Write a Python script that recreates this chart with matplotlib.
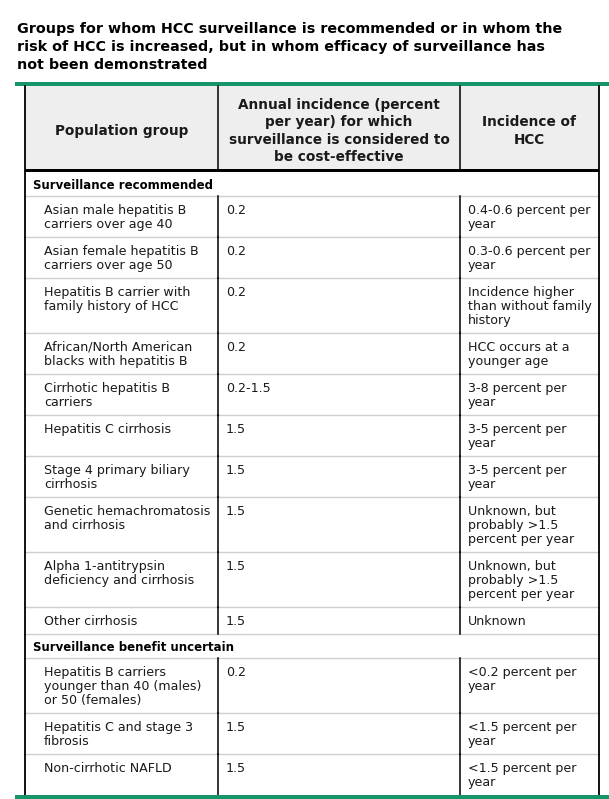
import matplotlib
matplotlib.use("Agg")
import matplotlib.pyplot as plt
from matplotlib.patches import Rectangle

# ---------------- data ----------------
title_lines = [
    "Groups for whom HCC surveillance is recommended or in whom the",
    "risk of HCC is increased, but in whom efficacy of surveillance has",
    "not been demonstrated",
]
col_headers = [
    ["Population group"],
    ["Annual incidence (percent", "per year) for which", "surveillance is considered to", "be cost-effective"],
    ["Incidence of", "HCC"],
]
section_1 = "Surveillance recommended"
section_1_groups = [
    "Asian male hepatitis B\ncarriers over age 40",
    "Asian female hepatitis B\ncarriers over age 50",
    "Hepatitis B carrier with\nfamily history of HCC",
    "African/North American\nblacks with hepatitis B",
    "Cirrhotic hepatitis B\ncarriers",
    "Hepatitis C cirrhosis",
    "Stage 4 primary biliary\ncirrhosis",
    "Genetic hemachromatosis\nand cirrhosis",
    "Alpha 1-antitrypsin\ndeficiency and cirrhosis",
    "Other cirrhosis",
]
section_1_threshold = ["0.2", "0.2", "0.2", "0.2", "0.2-1.5", "1.5", "1.5", "1.5", "1.5", "1.5"]
section_1_incidence = [
    "0.4-0.6 percent per\nyear",
    "0.3-0.6 percent per\nyear",
    "Incidence higher\nthan without family\nhistory",
    "HCC occurs at a\nyounger age",
    "3-8 percent per\nyear",
    "3-5 percent per\nyear",
    "3-5 percent per\nyear",
    "Unknown, but\nprobably >1.5\npercent per year",
    "Unknown, but\nprobably >1.5\npercent per year",
    "Unknown",
]
section_2 = "Surveillance benefit uncertain"
section_2_groups = [
    "Hepatitis B carriers\nyounger than 40 (males)\nor 50 (females)",
    "Hepatitis C and stage 3\nfibrosis",
    "Non-cirrhotic NAFLD",
]
section_2_threshold = ["0.2", "1.5", "1.5"]
section_2_incidence = [
    "<0.2 percent per\nyear",
    "<1.5 percent per\nyear",
    "<1.5 percent per\nyear",
]

# ---------------- style / layout ----------------
W, H = 609, 799
GREEN = "#16956a"
HEAD_BG = "#eeeeee"
TXT = "#1a1a1a"
GRID = "#cfcfcf"
FONT = "DejaVu Sans"
TITLE_FS = 10.25
HEAD_FS = 9.8
SECT_FS = 8.45
BODY_FS = 9.1

X_LEFT, X_C1, X_C2, X_RIGHT = 25, 218, 460, 599
TEXT_X = [44, 226, 468]
LINE_H = 14

fig = plt.figure(figsize=(W / 100, H / 100), dpi=100)
ax = fig.add_axes([0, 0, 1, 1])
ax.set_xlim(0, W)
ax.set_ylim(H, 0)
ax.axis("off")

# title
for i, line in enumerate(title_lines):
    ax.text(17, 33 + 18 * i, line, fontsize=TITLE_FS, fontweight="bold",
            color="black", family=FONT, va="baseline", ha="left")

# top green rule
ax.add_patch(Rectangle((15, 82), W - 15, 4, color=GREEN, lw=0, zorder=3))

# header
HEAD_TOP, HEAD_BOT = 86, 169
ax.add_patch(Rectangle((X_LEFT, HEAD_TOP), X_RIGHT - X_LEFT, HEAD_BOT - HEAD_TOP,
                       color=HEAD_BG, lw=0, zorder=0))
ax.add_patch(Rectangle((X_LEFT, HEAD_BOT), X_RIGHT - X_LEFT, 3, color="black", lw=0, zorder=3))
centers = [(X_LEFT + X_C1) / 2, (X_C1 + X_C2) / 2, (X_C2 + X_RIGHT) / 2]
head_mid = (HEAD_TOP + HEAD_BOT) / 2 + 2
for cx, lines in zip(centers, col_headers):
    n = len(lines)
    for i, line in enumerate(lines):
        y = head_mid + (i - (n - 1) / 2) * 17.3
        ax.text(cx, y, line, fontsize=HEAD_FS, fontweight="bold", color=TXT,
                family=FONT, ha="center", va="center_baseline")
for x in (X_C1, X_C2):
    ax.plot([x, x], [HEAD_TOP, HEAD_BOT], color="black", lw=1.1, zorder=3)

# body
y = 172
vseg = []


def section_row(label, y):
    h = 24
    ax.text(33, y + 17, label, fontsize=SECT_FS, fontweight="bold", color="black",
            family=FONT, ha="left", va="baseline")
    ax.plot([X_LEFT, X_RIGHT], [y + h, y + h], color=GRID, lw=1.0, zorder=1)
    return y + h


def data_rows(groups, thresholds, incidences, y, last_group=False):
    for k, cells in enumerate(zip(groups, thresholds, incidences)):
        nl = max(c.count("\n") + 1 for c in cells)
        h = 13 + LINE_H * nl
        for tx, c in zip(TEXT_X, cells):
            for i, line in enumerate(c.split("\n")):
                ax.text(tx, y + 18 + LINE_H * i, line, fontsize=BODY_FS, color=TXT,
                        family=FONT, ha="left", va="baseline")
        vseg.append((y, y + h))
        if not (last_group and k == len(groups) - 1):
            ax.plot([X_LEFT, X_RIGHT], [y + h, y + h], color=GRID, lw=1.0, zorder=1)
        y += h
    return y


y = section_row(section_1, y)
y = data_rows(section_1_groups, section_1_threshold, section_1_incidence, y)
y = section_row(section_2, y)
y = data_rows(section_2_groups, section_2_threshold, section_2_incidence, y, last_group=True)
bottom = y

for (a, b) in vseg:
    for x in (X_C1, X_C2):
        ax.plot([x, x], [a, b], color="black", lw=1.1, zorder=3)

for x in (X_LEFT, X_RIGHT):
    ax.plot([x, x], [HEAD_TOP, bottom], color="black", lw=1.3, zorder=3)

# bottom green rule
ax.add_patch(Rectangle((15, bottom), W - 15, H - bottom + 1, color=GREEN, lw=0, zorder=4))

fig.savefig("out.png", dpi=100, facecolor="white")
